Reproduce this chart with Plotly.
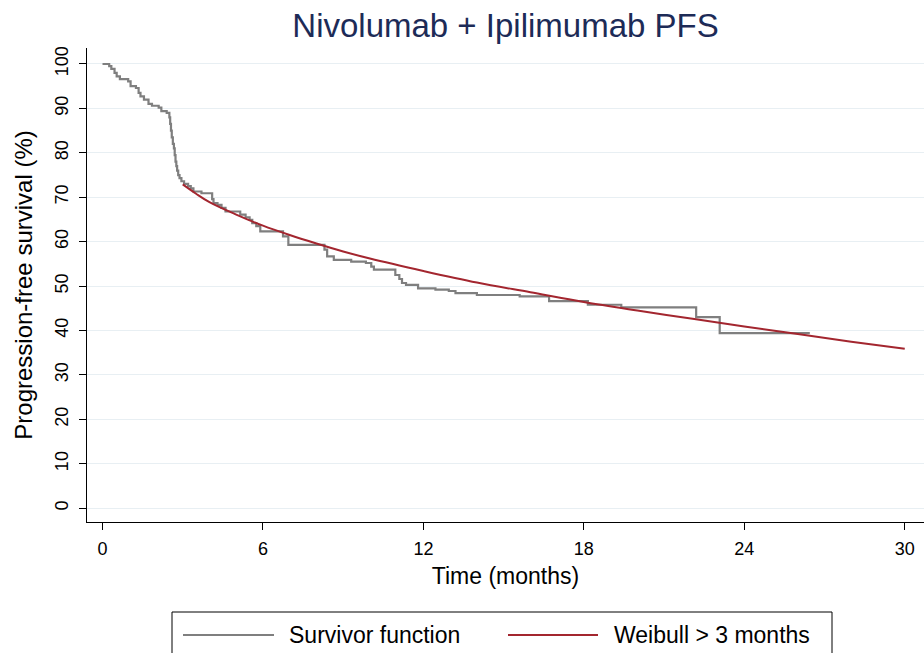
import plotly.graph_objects as go

# ---- data ----
km_time = [0, 0.25, 0.33, 0.45, 0.53, 0.65, 0.96, 1.05, 1.25, 1.35, 1.42, 1.55, 1.72, 1.85,
           2.1, 2.2, 2.4, 2.5, 2.53, 2.56, 2.59, 2.63, 2.67, 2.70, 2.73, 2.76, 2.79, 2.83,
           2.88, 2.95, 3.05, 3.2, 3.3, 3.4, 3.7, 4.1, 4.15, 4.3, 4.45, 4.6, 5.15, 5.35,
           5.5, 5.6, 5.75, 5.9, 6.75, 6.95, 8.3, 8.4, 8.65, 9.3, 9.85, 10.05, 10.15,
           10.95, 11.1, 11.2, 11.35, 11.8, 12.45, 12.95, 13.2, 14.0, 15.6, 16.7, 18.15,
           19.4, 22.2, 23.08, 26.45]
km_surv = [100, 99.5, 98.9, 98.0, 97.2, 96.6, 96.1, 95.0, 94.6, 93.5, 92.7, 92.0, 91.0, 90.6,
           90.2, 89.4, 89.0, 88.0, 86.5, 85.0, 83.5, 82.0, 81.0, 79.5, 78.0, 77.0, 76.0, 75.0,
           74.3, 73.6, 73.0, 72.5, 72.0, 71.3, 70.9, 69.6, 68.7, 68.3, 67.6, 66.8, 66.1, 65.5,
           64.9, 64.2, 63.5, 62.3, 61.2, 59.3, 58.2, 56.7, 55.9, 55.5, 55.2, 54.4, 53.7,
           52.5, 51.6, 50.7, 50.3, 49.5, 49.2, 48.9, 48.4, 48.0, 47.7, 46.6, 45.8,
           45.2, 43.0, 39.4, 39.4]

wb_time = [3, 3.5, 4, 5, 6, 7, 8, 9, 10, 12, 14, 16, 18, 20, 22, 24, 26, 28, 30]
wb_surv = [72.9, 70.8, 68.9, 66.1, 63.6, 61.5, 59.6, 57.8, 56.2, 53.4, 50.8, 48.6, 46.4,
           44.5, 42.7, 40.9, 39.2, 37.5, 35.9]

x_ticks = [0, 6, 12, 18, 24, 30]
y_ticks = [0, 10, 20, 30, 40, 50, 60, 70, 80, 90, 100]

legend_labels = ["Survivor function", "Weibull > 3 months"]
title_text = "Nivolumab + Ipilimumab PFS"

# ---- styling ----
W, H = 924, 653
ML, MR, MT, MB = 87, 0, 48, 131
FONT = "Liberation Sans, Arial, Helvetica, sans-serif"
GRAY = "#7f7f7f"
RED = "#a3262f"

def px_x(px):
    return (px - ML) / (W - ML - MR)

def px_y(py):
    return (H - MB - py) / (H - MT - MB)

fig = go.Figure()
fig.add_trace(go.Scatter(x=km_time, y=km_surv, mode="lines", name=legend_labels[0],
                         line=dict(color=GRAY, width=2.2, shape="hv"), showlegend=False))
fig.add_trace(go.Scatter(x=wb_time, y=wb_surv, mode="lines", name=legend_labels[1],
                         line=dict(color=RED, width=2, shape="spline"), showlegend=False))

fig.update_layout(
    width=W, height=H,
    margin=dict(l=ML, r=MR, t=MT, b=MB, autoexpand=False),
    paper_bgcolor="white", plot_bgcolor="white",
    font=dict(family=FONT, color="black"),
    title=dict(text=title_text, x=0.5, xref="paper", xanchor="center",
               y=1 - 25 / H, yref="container", yanchor="middle",
               font=dict(size=33, color="#1d2b57", family=FONT)),
)

fig.update_xaxes(
    range=[-0.58, 30.72], tickvals=x_ticks, ticktext=[str(v) for v in x_ticks],
    showgrid=False, zeroline=False, showline=True, linecolor="black", linewidth=1,
    ticks="outside", ticklen=7, tickcolor="black", tickwidth=1,
    tickfont=dict(size=18, family=FONT), ticklabelstandoff=3,
    title=dict(text="Time (months)", font=dict(size=23, family=FONT), standoff=10),
)
fig.update_yaxes(
    range=[-3.1, 103.6], tickvals=y_ticks, ticktext=[str(v) for v in y_ticks],
    showgrid=True, gridcolor="#e8eff3", gridwidth=1, zeroline=False,
    showline=True, linecolor="black", linewidth=1,
    ticks="outside", ticklen=7, tickcolor="black", tickwidth=1, tickangle=-90,
    tickfont=dict(size=18, family=FONT), ticklabelstandoff=4,
    title=dict(text="Progression-free survival (%)", font=dict(size=24, family=FONT), standoff=12),
)

# ---- legend drawn as a framed key below the plot ----
ly = px_y(635)
fig.add_shape(type="rect", xref="paper", yref="paper",
              x0=px_x(172), x1=px_x(832), y0=px_y(668), y1=px_y(612),
              line=dict(color="black", width=1), fillcolor="white", layer="above")
fig.add_shape(type="line", xref="paper", yref="paper",
              x0=px_x(183), x1=px_x(274), y0=ly, y1=ly, line=dict(color=GRAY, width=2.2))
fig.add_shape(type="line", xref="paper", yref="paper",
              x0=px_x(508), x1=px_x(598), y0=ly, y1=ly, line=dict(color=RED, width=2))
fig.add_annotation(text=legend_labels[0], xref="paper", yref="paper", x=px_x(287), y=ly,
                   xanchor="left", yanchor="middle", showarrow=False,
                   font=dict(size=23, family=FONT, color="black"))
fig.add_annotation(text=legend_labels[1], xref="paper", yref="paper", x=px_x(612), y=ly,
                   xanchor="left", yanchor="middle", showarrow=False,
                   font=dict(size=23, family=FONT, color="black"))

fig.write_html("out.html")
